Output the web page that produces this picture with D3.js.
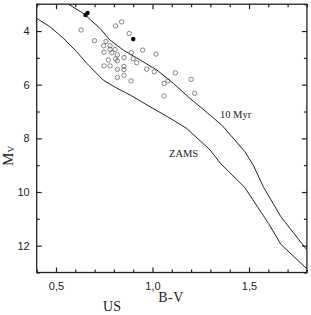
<!DOCTYPE html>
<html>
<head>
<meta charset="utf-8">
<script src="https://cdn.jsdelivr.net/npm/d3@7"></script>
<style>
  body { margin: 0; background: #fff; }
  .tick text { font-family: "Liberation Sans", Arial, sans-serif; font-size: 11px; fill: #222; }
  .lbl { font-family: "Liberation Serif", "Times New Roman", serif; fill: #222; }
</style>
</head>
<body>
<div id="chart"></div>
<script>
// chart size
var svgWidth = 311;
var svgHeight = 315;

var margin = { top: 4.2, right: 4.1, bottom: 42.5, left: 36.7 };
var width = svgWidth - margin.left - margin.right;
var height = svgHeight - margin.top - margin.bottom;

// axis ticks
var xMajorTicks = [0.5, 1.0, 1.5];
var xMinorTicks = [0.4, 0.6, 0.7, 0.8, 0.9, 1.1, 1.2, 1.3, 1.4, 1.6, 1.7, 1.8];
var yMajorTicks = [4, 6, 8, 10, 12];
var yMinorTicks = [3, 5, 7, 9, 11, 13];

// isochrone: 10 Myr (B-V, Mv)
var myrBV = [0.564, 0.641, 0.728, 0.780, 0.849, 0.936, 1.022, 1.108, 1.194, 1.298, 1.362, 1.478, 1.522, 1.576, 1.665, 1.798];
var myrMv = [3.00, 3.34, 3.90, 4.34, 4.71, 5.08, 5.45, 5.95, 6.51, 7.13, 7.53, 8.49, 9.00, 9.83, 10.92, 12.14];

// ZAMS (B-V, Mv)
var zamsBV = [0.40, 0.469, 0.538, 0.607, 0.659, 0.745, 0.815, 0.883, 0.987, 1.091, 1.177, 1.298, 1.353, 1.478, 1.531, 1.602, 1.665, 1.798];
var zamsMv = [3.53, 3.84, 4.27, 4.77, 5.20, 5.83, 6.13, 6.38, 6.82, 7.25, 7.63, 8.43, 8.94, 9.83, 10.41, 11.18, 11.95, 12.85];

// stars, open symbols
var starBV = [0.630, 0.699, 0.809, 0.840, 0.879, 0.747, 0.780, 0.759, 0.806, 0.780, 0.749, 0.789, 0.818, 0.852,
  0.890, 0.949, 1.018, 0.771, 0.809, 0.818, 0.900, 0.918, 0.749, 0.780, 0.852, 0.818, 0.852, 0.970, 1.009,
  0.818, 0.852, 0.889, 1.118, 1.200, 1.060, 1.080, 1.060, 1.218];
var starMv = [3.96, 4.36, 3.81, 3.66, 4.09, 4.55, 4.55, 4.39, 4.69, 4.68, 4.79, 4.81, 4.89, 4.99,
  4.81, 4.71, 4.86, 5.08, 5.04, 5.11, 5.03, 5.18, 5.30, 5.30, 5.32, 5.43, 5.43, 5.42, 5.52,
  5.73, 5.65, 5.86, 5.56, 5.80, 5.95, 5.86, 6.42, 6.32];

// stars, filled symbols
var filledBV = [0.653, 0.663, 0.900];
var filledMv = [3.40, 3.33, 4.30];

var svg = d3.select("#chart")
  .append("svg")
  .attr("width", svgWidth)
  .attr("height", svgHeight);

var chartGroup = svg.append("g")
  .attr("transform", `translate(${margin.left}, ${margin.top})`);

var xScale = d3.scaleLinear().domain([0.4, 1.8]).range([0, width]);
var yScale = d3.scaleLinear().domain([3, 13]).range([0, height]);

var commaFmt = d => d3.format(".1f")(d).replace(".", ",");

// major ticks, all pointing inward
chartGroup.append("g")
  .attr("transform", `translate(0, ${height})`)
  .call(d3.axisBottom(xScale).tickValues(xMajorTicks).tickSize(-5).tickPadding(10).tickFormat(commaFmt));
chartGroup.append("g")
  .call(d3.axisTop(xScale).tickValues(xMajorTicks).tickSize(-5).tickFormat(""));
chartGroup.append("g")
  .call(d3.axisLeft(yScale).tickValues(yMajorTicks).tickSize(-5).tickPadding(7).tickFormat(d3.format("d")));
chartGroup.append("g")
  .attr("transform", `translate(${width}, 0)`)
  .call(d3.axisRight(yScale).tickValues(yMajorTicks).tickSize(-5).tickFormat(""));

// minor ticks
chartGroup.append("g")
  .attr("transform", `translate(0, ${height})`)
  .call(d3.axisBottom(xScale).tickValues(xMinorTicks).tickSize(-3).tickFormat(""));
chartGroup.append("g")
  .call(d3.axisTop(xScale).tickValues(xMinorTicks).tickSize(-3).tickFormat(""));
chartGroup.append("g")
  .call(d3.axisLeft(yScale).tickValues(yMinorTicks).tickSize(-3).tickFormat(""));
chartGroup.append("g")
  .attr("transform", `translate(${width}, 0)`)
  .call(d3.axisRight(yScale).tickValues(yMinorTicks).tickSize(-3).tickFormat(""));

chartGroup.selectAll(".domain").remove();
chartGroup.selectAll(".tick line").attr("stroke", "#222").attr("stroke-width", 1.2);

// frame
chartGroup.append("rect")
  .attr("width", width)
  .attr("height", height)
  .attr("fill", "none")
  .attr("stroke", "#222")
  .attr("stroke-width", 1.3);

// curves
var line = d3.line()
  .x(d => xScale(d[0]))
  .y(d => yScale(d[1]));

chartGroup.append("path")
  .datum(d3.zip(zamsBV, zamsMv))
  .attr("d", line)
  .attr("fill", "none")
  .attr("stroke", "#222")
  .attr("stroke-width", 1);

chartGroup.append("path")
  .datum(d3.zip(myrBV, myrMv))
  .attr("d", line)
  .attr("fill", "none")
  .attr("stroke", "#222")
  .attr("stroke-width", 1);

// open circles
chartGroup.selectAll("circle.open")
  .data(d3.zip(starBV, starMv))
  .enter()
  .append("circle")
  .classed("open", true)
  .attr("cx", d => xScale(d[0]))
  .attr("cy", d => yScale(d[1]))
  .attr("r", 2.2)
  .attr("fill", "none")
  .attr("stroke", "#666")
  .attr("stroke-width", 0.8);

// filled circles
chartGroup.selectAll("circle.filled")
  .data(d3.zip(filledBV, filledMv))
  .enter()
  .append("circle")
  .classed("filled", true)
  .attr("cx", d => xScale(d[0]))
  .attr("cy", d => yScale(d[1]))
  .attr("r", 2.3)
  .attr("fill", "#111");

// curve labels
chartGroup.append("text")
  .classed("lbl", true)
  .attr("x", 220 - margin.left)
  .attr("y", 118 - margin.top)
  .attr("font-size", 10.5)
  .text("10 Myr");

chartGroup.append("text")
  .classed("lbl", true)
  .attr("x", 169 - margin.left)
  .attr("y", 157 - margin.top)
  .attr("font-size", 10.5)
  .text("ZAMS");

// axis titles
svg.append("text")
  .classed("lbl", true)
  .attr("x", 171)
  .attr("y", 302)
  .attr("text-anchor", "middle")
  .attr("font-size", 14)
  .attr("letter-spacing", 0.5)
  .text("B-V");

svg.append("text")
  .classed("lbl", true)
  .attr("x", 112)
  .attr("y", 311)
  .attr("text-anchor", "middle")
  .attr("font-size", 14)
  .text("US");

var mvLabel = svg.append("text")
  .classed("lbl", true)
  .attr("transform", "translate(13, 156) rotate(-90)")
  .attr("text-anchor", "middle")
  .attr("font-size", 15);
mvLabel.append("tspan").text("M");
mvLabel.append("tspan").attr("font-size", 9).attr("dy", 1).text("V");
</script>
</body>
</html>
